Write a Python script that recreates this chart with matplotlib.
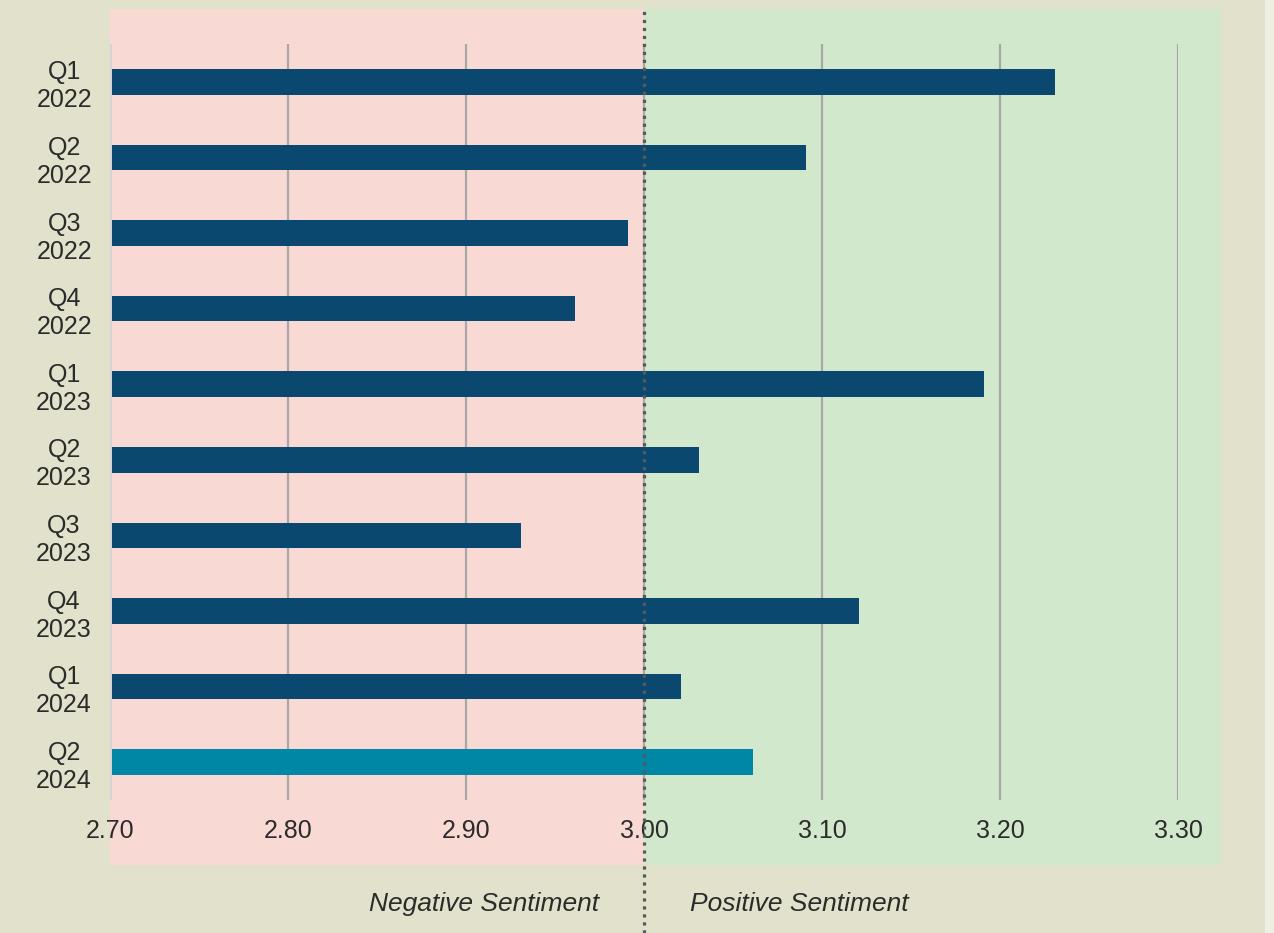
import matplotlib.pyplot as plt
from matplotlib.patches import Rectangle
import matplotlib.transforms as mtransforms

# Dados
trimestres = ["Q1\n2022", "Q2\n2022", "Q3\n2022", "Q4\n2022",
              "Q1\n2023", "Q2\n2023", "Q3\n2023", "Q4\n2023",
              "Q1\n2024", "Q2\n2024"]
valores = [3.23, 3.09, 2.99, 2.96, 3.19, 3.03, 2.93, 3.12, 3.02, 3.06]
destaque = "Q2\n2024"
x_ticks = [2.70, 2.80, 2.90, 3.00, 3.10, 3.20, 3.30]
neutro = 3.00
x_min, x_max = 2.70, 3.30
faixa_max = 3.324

cor_fundo = "#e2e1cb"
cor_neg = "#f8d9d4"
cor_pos = "#d2e8cd"
cor_barra = "#0b4870"
cor_destaque = "#0087a6"
cor_texto = "#2b2b2b"

plt.rcParams['font.family'] = ['Liberation Sans', 'DejaVu Sans']

fig = plt.figure(figsize=(12.74, 9.33), dpi=100, facecolor=cor_fundo)
ax = fig.add_axes([110 / 1274, (933 - 800) / 933, (1178 - 110) / 1274, 756 / 933])
ax.set_facecolor("none")

# faixa clara na borda direita
fig.patches.append(Rectangle((1265 / 1274, 0), 9 / 1274, 1, transform=fig.transFigure,
                             facecolor="#efeee2", edgecolor="none", zorder=0))

trans = mtransforms.blended_transform_factory(ax.transData, ax.transAxes)
y0, y1 = -0.086, 1.0463
ax.add_patch(Rectangle((x_min, y0), neutro - x_min, y1 - y0, transform=trans,
                       facecolor=cor_neg, edgecolor="none", clip_on=False, zorder=0))
ax.add_patch(Rectangle((neutro, y0), faixa_max - neutro, y1 - y0, transform=trans,
                       facecolor=cor_pos, edgecolor="none", clip_on=False, zorder=0))

# barras
pos = list(range(len(trimestres)))
cores = [cor_destaque if t == destaque else cor_barra for t in trimestres]
ax.barh(pos, [v - x_min for v in valores], left=x_min + 0.001, height=0.34,
        color=cores, zorder=3)
ax.set_ylim(len(trimestres) - 0.5, -0.5)
ax.set_xlim(x_min, x_max)

# grade
for t in x_ticks:
    if t == x_min:
        ax.axvline(t, color="#d4d4d4", linewidth=2, zorder=2)
    else:
        ax.axvline(t, color="#a8a8a8", linewidth=1.6, zorder=2)

# linha pontilhada em 3.00
ax.plot([neutro, neutro], [-0.176, y1], transform=trans, color="#585858",
        linewidth=2.3, linestyle=(0, (1, 1.5)), clip_on=False, zorder=5)

ax.set_yticks(pos)
ax.set_yticklabels(trimestres, fontsize=18, color=cor_texto, linespacing=1.22)
for lbl in ax.get_yticklabels():
    lbl.set_multialignment("center")
ax.set_xticks(x_ticks)
ax.set_xticklabels([f"{t:.2f}" for t in x_ticks], fontsize=18, color=cor_texto)
ax.tick_params(axis="both", length=0)
ax.tick_params(axis="x", pad=14)
ax.tick_params(axis="y", pad=13)
for s in ax.spines.values():
    s.set_visible(False)

ax.text(neutro - 0.025, -0.138, "Negative Sentiment", transform=trans, ha="right",
        va="center", fontsize=19, style="italic", color=cor_texto)
ax.text(neutro + 0.026, -0.138, "Positive Sentiment", transform=trans, ha="left",
        va="center", fontsize=19, style="italic", color=cor_texto)

plt.savefig("out.png", dpi=100, facecolor=cor_fundo)
